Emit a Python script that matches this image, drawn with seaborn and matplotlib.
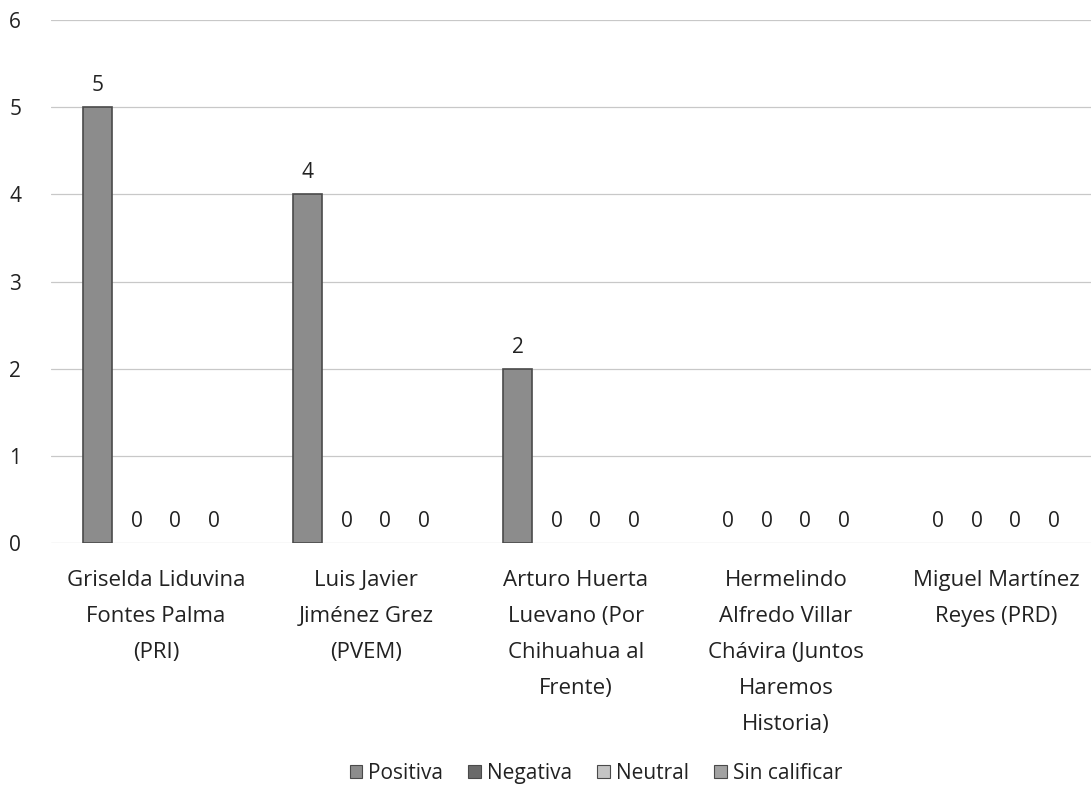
import numpy as np
import pandas as pd
import matplotlib
matplotlib.use("Agg")
import matplotlib.pyplot as plt
import seaborn as sns

candidates = ["Griselda Liduvina\nFontes Palma\n(PRI)",
              "Luis Javier\nJiménez Grez\n(PVEM)",
              "Arturo Huerta\nLuevano (Por\nChihuahua al\nFrente)",
              "Hermelindo\nAlfredo Villar\nChávira (Juntos\nHaremos\nHistoria)",
              "Miguel Martínez\nReyes (PRD)"]
series = ["Positiva", "Negativa", "Neutral", "Sin calificar"]
positiva = [5, 4, 2, 0, 0]
negativa = [0, 0, 0, 0, 0]
neutral = [0, 0, 0, 0, 0]
sin_calificar = [0, 0, 0, 0, 0]
colors = ["#8c8c8c", "#6a6a6a", "#c4c4c4", "#a2a2a2"]

df = pd.DataFrame({"candidato": candidates * 4,
                   "serie": np.repeat(series, len(candidates)),
                   "valor": positiva + negativa + neutral + sin_calificar})

sns.set_style("white")
plt.rcParams["font.family"] = ["Open Sans", "DejaVu Sans"]

fig = plt.figure(figsize=(10.91, 7.93), dpi=100)
ax = fig.add_axes([0.0467, 0.315, 0.9624, 0.66])

sns.barplot(data=df, x="candidato", y="valor", hue="serie", hue_order=series,
            palette=colors, width=0.74, gap=0.25, edgecolor="#4a4a4a",
            linewidth=1.2, ax=ax)

for c in ax.containers:
    ax.bar_label(c, fmt="%d", padding=8, fontsize=15, color="#222222")

ax.set_ylim(0, 6)
ax.set_xlim(-0.5, 4.5)
ax.set_yticks(range(7))
ax.yaxis.grid(True, color="#c8c8c8", linewidth=0.9)
ax.set_axisbelow(True)
for s in ax.spines.values():
    s.set_visible(False)
ax.tick_params(axis="both", length=0, labelsize=16, colors="#222222")
ax.tick_params(axis="y", labelsize=15, pad=30)
ax.tick_params(axis="x", pad=19)
for lbl in ax.get_yticklabels():
    lbl.set_horizontalalignment("left")
for lbl in ax.get_xticklabels():
    lbl.set_linespacing(1.95)
ax.set_xlabel("")
ax.set_ylabel("")

leg = ax.legend(loc="center", bbox_to_anchor=(0.519, -0.44), ncol=4, frameon=False,
                fontsize=15, handlelength=0.6, handleheight=0.6, handletextpad=0.3,
                columnspacing=1.2, labelcolor="#222222")
for h in leg.legend_handles:
    h.set_edgecolor("#4a4a4a")
    h.set_linewidth(0.8)

# zero-height bars draw no outline in the original
for p in ax.patches:
    if p.get_height() == 0:
        p.set_linewidth(0)

fig.savefig("out.png", dpi=100, facecolor="white")
